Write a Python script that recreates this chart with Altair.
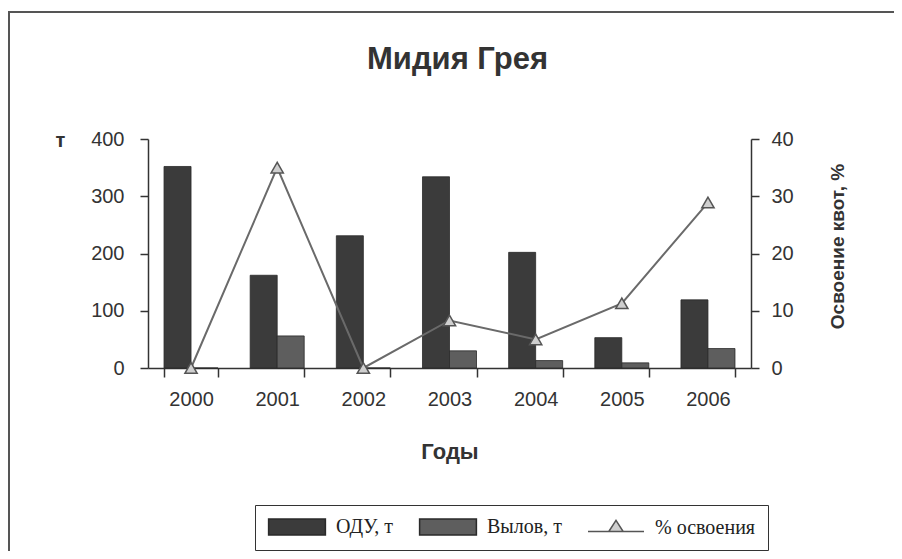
import altair as alt
import pandas as pd

years = ["2000", "2001", "2002", "2003", "2004", "2005", "2006"]
odu = [352, 162, 231, 334, 202, 53, 119]
vylov = [0, 56, 0, 30, 13, 9, 34]
pct = [0, 35, 0, 8.3, 5.0, 11.3, 28.9]
series_names = ["ОДУ, т", "Вылов, т", "% освоения"]

bars_df = pd.DataFrame(
    [{"year": y, "series": series_names[0], "value": v} for y, v in zip(years, odu)]
    + [{"year": y, "series": series_names[1], "value": v} for y, v in zip(years, vylov)]
)
line_df = pd.DataFrame({"year": years, "pct": pct, "series": series_names[2]})
frame_df = pd.DataFrame({"k": [0]})

FONT = "Liberation Sans"
W, H = 603, 229

x_enc = alt.X(
    "year:N",
    sort=years,
    scale=alt.Scale(paddingInner=0.373, paddingOuter=0.186),
    axis=alt.Axis(
        title="Годы",
        labelAngle=0,
        labelFontSize=20,
        labelPadding=12,
        tickBand="extent",
        tickSize=9,
        titleFontSize=22,
        titleFontWeight="bold",
        titlePadding=32,
    ),
)

color_scale = alt.Scale(domain=series_names, range=["#3b3b3b", "#5e5e5e", "#cfcfcf"])

legend = alt.Legend(
    title=None,
    orient="none",
    legendX=107,
    legendY=366,
    direction="horizontal",
    columns=3,
    columnPadding=23,
    labelFont="Liberation Serif",
    labelFontSize=20,
    labelColor="#222",
    labelOffset=29,
    symbolOffset=20,
    symbolSize=256,
    padding=12,
    strokeColor="#333",
    symbolType=alt.ExprRef(
        expr="datum.value === '% освоения' ? 'M-3.5,0.5H-0.9M0.9,0.5H3.5M-0.9,0.5L0,-0.9L0.9,0.5Z' : 'M-3.55,-1H3.55V1H-3.55Z'"
    ),
    symbolStrokeColor=alt.ExprRef(
        expr="datum.value === '% освоения' ? '#555555' : '#2a2a2a'"
    ),
    symbolStrokeWidth=1.5,
    symbolOpacity=1,
)

frame = alt.Chart(frame_df).mark_rect(
    fill=None, stroke="#555555", strokeWidth=2
).encode(
    x=alt.value(-139), x2=alt.value(W + 400),
    y=alt.value(-127), y2=alt.value(H + 400),
)

bars = alt.Chart(bars_df).mark_bar(stroke="#2a2a2a", strokeWidth=0.8).encode(
    x=x_enc,
    xOffset=alt.XOffset("series:N", sort=series_names[:2], scale=alt.Scale(domain=series_names[:2], paddingInner=0, paddingOuter=0)),
    y=alt.Y(
        "value:Q",
        scale=alt.Scale(domain=[0, 400], nice=False),
        axis=alt.Axis(
            values=[0, 100, 200, 300, 400],
            labelFontSize=20,
            labelPadding=16,
            tickSize=8,
            grid=False,
            title="т",
            titleAngle=0,
            titleX=-88,
            titleY=7,
            titleAlign="center",
            titleBaseline="alphabetic",
            titleFontSize=20,
            titleFontWeight="bold",
        ),
    ),
    color=alt.Color("series:N", scale=color_scale, legend=legend),
)

right_axis = alt.Axis(
    orient="right",
    values=[0, 10, 20, 30, 40],
    labelFontSize=20,
    labelPadding=12,
    tickSize=8,
    grid=False,
    title="Освоение квот, %",
    titleAngle=270,
    titleX=86,
    titleY=107,
    titleAlign="center",
    titleBaseline="middle",
    titleFontSize=19,
    titleFontWeight="bold",
)
y_right = alt.Y("pct:Q", scale=alt.Scale(domain=[0, 40], nice=False), axis=right_axis)

line = alt.Chart(line_df).mark_line(strokeWidth=2, color="#6a6a6a").encode(
    x=alt.X("year:N", sort=years),
    y=y_right,
)
points = alt.Chart(line_df).mark_point(
    shape="triangle-up", filled=True, stroke="#555555", strokeWidth=1.5, size=150, opacity=1
).encode(
    x=alt.X("year:N", sort=years),
    y=y_right,
    color=alt.Color("series:N", scale=color_scale, legend=legend),
)

chart = (
    alt.layer(frame, bars, alt.layer(line, points))
    .resolve_scale(y="independent")
    .properties(
        width=W,
        height=H,
        title=alt.TitleParams(
            "Мидия Грея", fontSize=31, fontWeight="bold", font=FONT, color="#333333",
            anchor="middle", dx=8, offset=-89, frame="group", baseline="alphabetic",
        ),
        padding={"left": 140, "top": 131, "right": 143, "bottom": 183},
        autosize=alt.AutoSizeParams(type="none"),
        background="white",
    )
    .configure_view(stroke=None)
    .configure_axis(
        labelFont=FONT,
        titleFont=FONT,
        labelColor="#333333",
        titleColor="#333333",
        domainColor="#333333",
        tickColor="#333333",
        domainWidth=1.5,
        tickWidth=1.5,
    )
)

chart.save("out.html", embed_options={"renderer": "svg", "actions": False})
